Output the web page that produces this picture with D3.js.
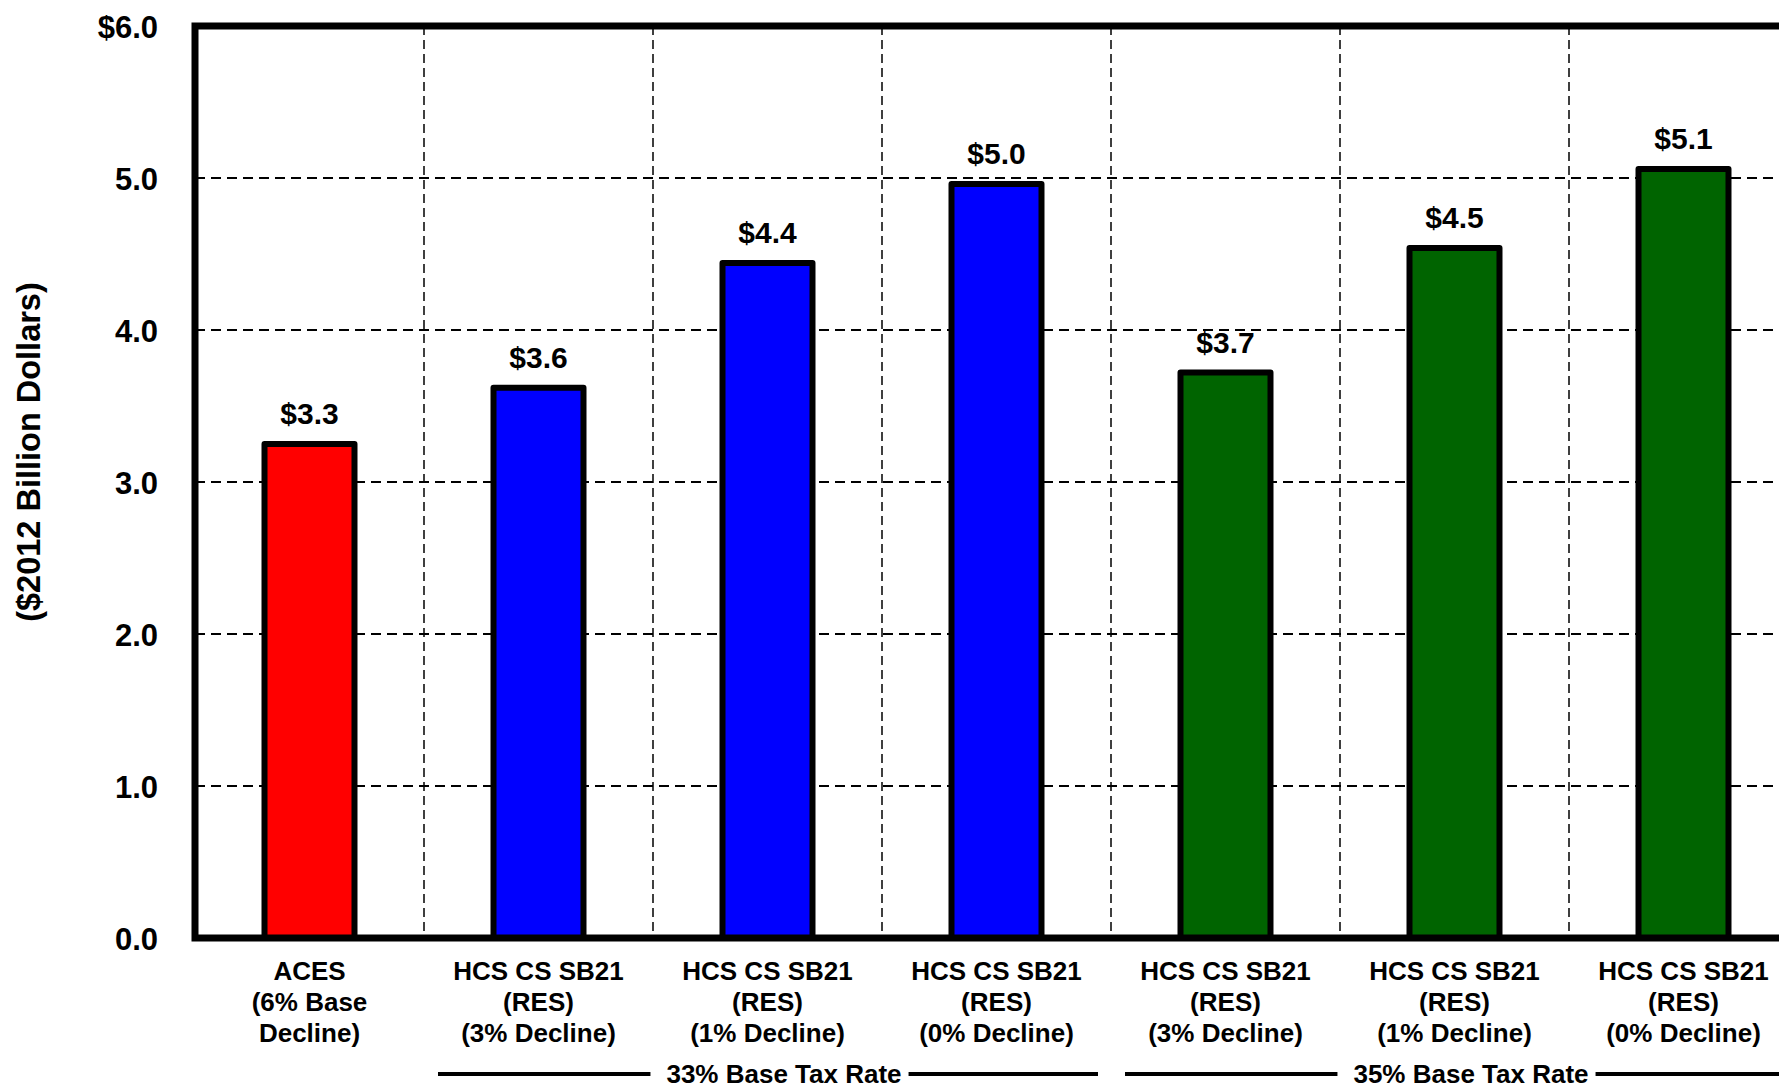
<!DOCTYPE html>
<html>
<head>
<meta charset="utf-8">
<script src="https://cdn.jsdelivr.net/npm/d3@7"></script>
<style>
body { margin:0; background:#fff; }
svg text { font-family:"Liberation Sans", Arial, sans-serif; font-weight:bold; fill:#000; }
</style>
</head>
<body>
<svg id="chart"></svg>
<script>
// values ($2012 billions)
var catLabels = [
    ["ACES","(6% Base","Decline)"],
    ["HCS CS SB21","(RES)","(3% Decline)"],
    ["HCS CS SB21","(RES)","(1% Decline)"],
    ["HCS CS SB21","(RES)","(0% Decline)"],
    ["HCS CS SB21","(RES)","(3% Decline)"],
    ["HCS CS SB21","(RES)","(1% Decline)"],
    ["HCS CS SB21","(RES)","(0% Decline)"]
]
var scenario = ["ACES","33%","33%","33%","35%","35%","35%"]
var values = [3.25, 3.62, 4.44, 4.96, 3.72, 4.54, 5.06]
var groupKeys = ["33%","35%"]
var groupNames = ["33% Base Tax Rate","35% Base Tax Rate"]
var yTicks = [0,1,2,3,4,5,6]

var screen = {width:1779,height:1088}
var margins = {left:195,top:26}
var graph = {width:229*7,height:912}

var svg = d3.select("#chart")
    .attr("width",screen.width)
    .attr("height",screen.height)

var idx = d3.range(values.length)

var xScale = d3.scaleBand()
    .domain(idx)
    .range([margins.left, margins.left+graph.width])

var yScale = d3.scaleLinear()
    .domain([0,6])
    .range([margins.top+graph.height, margins.top])

var colorScale = d3.scaleOrdinal()
    .domain(["ACES","33%","35%"])
    .range(["#ff0000","#0000ff","#006400"])

// grid lines
svg.append("g").selectAll("line")
    .data(yTicks.filter(function(t){ return t>0 && t<6 }))
    .enter().append("line")
    .attr("x1",margins.left).attr("x2",margins.left+graph.width)
    .attr("y1",function(t){ return yScale(t) })
    .attr("y2",function(t){ return yScale(t) })
    .attr("stroke","#000").attr("stroke-width",2)
    .attr("stroke-dasharray","10,6")

svg.append("g").selectAll("line")
    .data(idx.slice(1))
    .enter().append("line")
    .attr("x1",function(i){ return xScale(i) })
    .attr("x2",function(i){ return xScale(i) })
    .attr("y1",margins.top).attr("y2",margins.top+graph.height)
    .attr("stroke","#000").attr("stroke-width",1.5)
    .attr("stroke-dasharray","9,5")

// bars
var barW = xScale.bandwidth()*0.393
svg.append("g").selectAll("rect")
    .data(idx)
    .enter().append("rect")
    .attr("x",function(i){ return xScale(i)+xScale.bandwidth()/2-barW/2 })
    .attr("y",function(i){ return yScale(values[i]) })
    .attr("width",barW)
    .attr("height",function(i){ return yScale(0)-yScale(values[i]) })
    .attr("fill",function(i){ return colorScale(scenario[i]) })
    .attr("stroke","#000").attr("stroke-width",6)
    .attr("stroke-linejoin","round")

// value labels
svg.append("g").selectAll("text")
    .data(idx)
    .enter().append("text")
    .attr("x",function(i){ return xScale(i)+xScale.bandwidth()/2 })
    .attr("y",function(i){ return yScale(values[i])-20 })
    .attr("text-anchor","middle")
    .style("font-size","30px")
    .text(function(i){ return "$"+d3.format(".1f")(values[i]) })

// frame
svg.append("rect")
    .attr("x",margins.left).attr("y",margins.top)
    .attr("width",graph.width).attr("height",graph.height)
    .attr("fill","none").attr("stroke","#000").attr("stroke-width",7)

// y axis labels
var yAxis = d3.axisLeft(yScale)
    .tickValues(yTicks)
    .tickSize(0)
    .tickPadding(37)
    .tickFormat(function(t){ return (t==6?"$":"")+d3.format(".1f")(t) })
var yg = svg.append("g")
    .attr("transform","translate("+margins.left+",0)")
    .call(yAxis)
yg.select(".domain").remove()
yg.selectAll("text")
    .attr("dy","0.36em")
    .style("font-size","31px")
    .style("font-family",null)

// x axis labels (three lines)
var xAxis = d3.axisBottom(xScale).tickSize(0).tickFormat("")
var xg = svg.append("g")
    .attr("transform","translate(0,"+(margins.top+graph.height)+")")
    .call(xAxis)
xg.select(".domain").remove()
xg.selectAll(".tick text")
    .attr("y",0).attr("dy",null)
    .style("font-size","26px")
    .style("font-family",null)
    .each(function(i){
        var t = d3.select(this)
        catLabels[i].forEach(function(s,k){
            t.append("tspan").attr("x",0).attr("y",42+k*31).text(s)
        })
    })

// group labels under the categories
var groupY = 1074
groupKeys.forEach(function(key,g){
    var members = idx.filter(function(i){ return scenario[i]==key })
    var x0 = xScale(members[0])+14
    var x1 = xScale(members[members.length-1])+xScale.bandwidth()-13
    var cx = (x0+x1)/2+16
    var lab = svg.append("text")
        .attr("x",cx).attr("y",groupY+8.5)
        .attr("text-anchor","middle")
        .style("font-size","26px")
        .text(groupNames[g])
    var half = lab.node().getComputedTextLength()/2
    svg.append("line")
        .attr("x1",x0).attr("x2",cx-half-16)
        .attr("y1",groupY).attr("y2",groupY)
        .attr("stroke","#000").attr("stroke-width",4)
    svg.append("line")
        .attr("x1",cx+half+7).attr("x2",x1)
        .attr("y1",groupY).attr("y2",groupY)
        .attr("stroke","#000").attr("stroke-width",4)
})

// y title
svg.append("text")
    .attr("transform","translate(40,452) rotate(-90)")
    .attr("text-anchor","middle")
    .style("font-size","32.5px")
    .text("($2012 Billion Dollars)")
</script>
</body>
</html>
